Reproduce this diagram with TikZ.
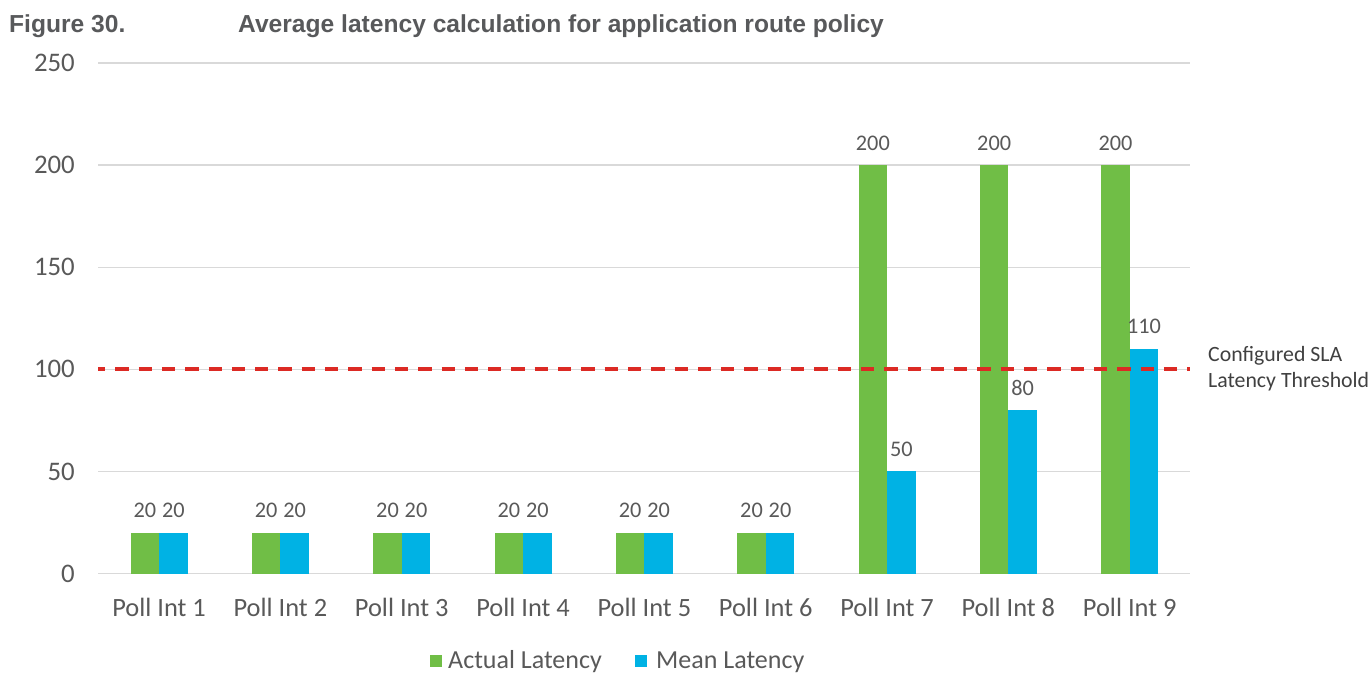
\documentclass[tikz,border=0pt]{standalone}
\usepackage{fontspec}
\setmainfont{Carlito}
\newfontfamily\titlefont{Liberation Sans}
\definecolor{barGreen}{RGB}{112,190,70}
\definecolor{barBlue}{RGB}{0,178,228}
\definecolor{gridGray}{RGB}{217,217,217}
\definecolor{txtGray}{RGB}{89,89,89}
\definecolor{titleGray}{RGB}{88,89,91}
\definecolor{slaRed}{RGB}{220,42,36}
\tikzset{
  ticklbl/.style={font=\fontsize{26.8}{32}\selectfont, text=txtGray, inner sep=0pt},
  catlbl/.style={font=\fontsize{26.4}{32}\selectfont, text=txtGray, inner sep=0pt, anchor=base},
  datalbl/.style={font=\fontsize{22.3}{27}\selectfont, text=txtGray, inner sep=0pt, anchor=base},
  leglbl/.style={font=\fontsize{26}{31}\selectfont, text=txtGray, inner sep=0pt, anchor=base west},
  sidelbl/.style={font=\fontsize{21.8}{26}\selectfont, text=black!75, inner sep=0pt, anchor=base west},
  titlelbl/.style={font=\titlefont\bfseries\fontsize{24.6}{29}\selectfont, text=titleGray, inner sep=0pt, anchor=base west},
  gridline/.style={draw=gridGray, line width=1.4pt},
  slaline/.style={draw=slaRed, line width=4pt, dash pattern=on 13.3pt off 10pt, dash phase=6pt},
}
\begin{document}
\begin{tikzpicture}[x=1pt,y=-1pt]
\useasboundingbox (0,0) rectangle (1372,672);
% title
\node[titlelbl] (fig) at (9,32) {Figure 30.};
\node[titlelbl] (ttl) at (238,32) {Average latency calculation for application route policy};
% grid and y ticks
\foreach \v in {0,50,100,150,200,250}{
  \pgfmathsetmacro{\yy}{573.5-\v*2.042}
  \draw[gridline] (98,\yy) -- (1190,\yy);
  \node[ticklbl, anchor=base east] (tick\v) at (75,\yy+8.6) {\v};
}
% bars
\foreach \i/\a/\m in {1/20/20,2/20/20,3/20/20,4/20/20,5/20/20,6/20/20,7/200/50,8/200/80,9/200/110}{
  \pgfmathsetmacro{\cx}{98+121.33*(\i-0.5)+0.4}
  \pgfmathsetmacro{\ya}{573.5-\a*2.042}
  \pgfmathsetmacro{\ym}{573.5-\m*2.042}
  \fill[barGreen] (\cx-28.5,573.5) rectangle (\cx,\ya);
  \fill[barBlue] (\cx,573.5) rectangle (\cx+28.6,\ym);
  \node[datalbl] (act\i) at (\cx-14.2,\ya-15) {\a};
  \node[datalbl] (mean\i) at (\cx+14.3,\ym-15) {\m};
  \node[catlbl] (cat\i) at (\cx,616) {Poll Int \i};
}
% SLA threshold
\coordinate (slaL) at (98,369.3);
\coordinate (slaR) at (1190,369.3);
\draw[slaline] (slaL) -- (slaR);
\node[sidelbl] (sla1) at (1208,361.7) {Configured SLA};
\node[sidelbl] (sla2) at (1208,387.5) {Latency Threshold};
% legend
\fill[barGreen] (430,655) rectangle (442,667);
\node[leglbl] (legA) at (448,668) {Actual Latency};
\fill[barBlue] (635,655) rectangle (647,667);
\node[leglbl] (legM) at (656,668) {Mean Latency};
\end{tikzpicture}
\end{document}
